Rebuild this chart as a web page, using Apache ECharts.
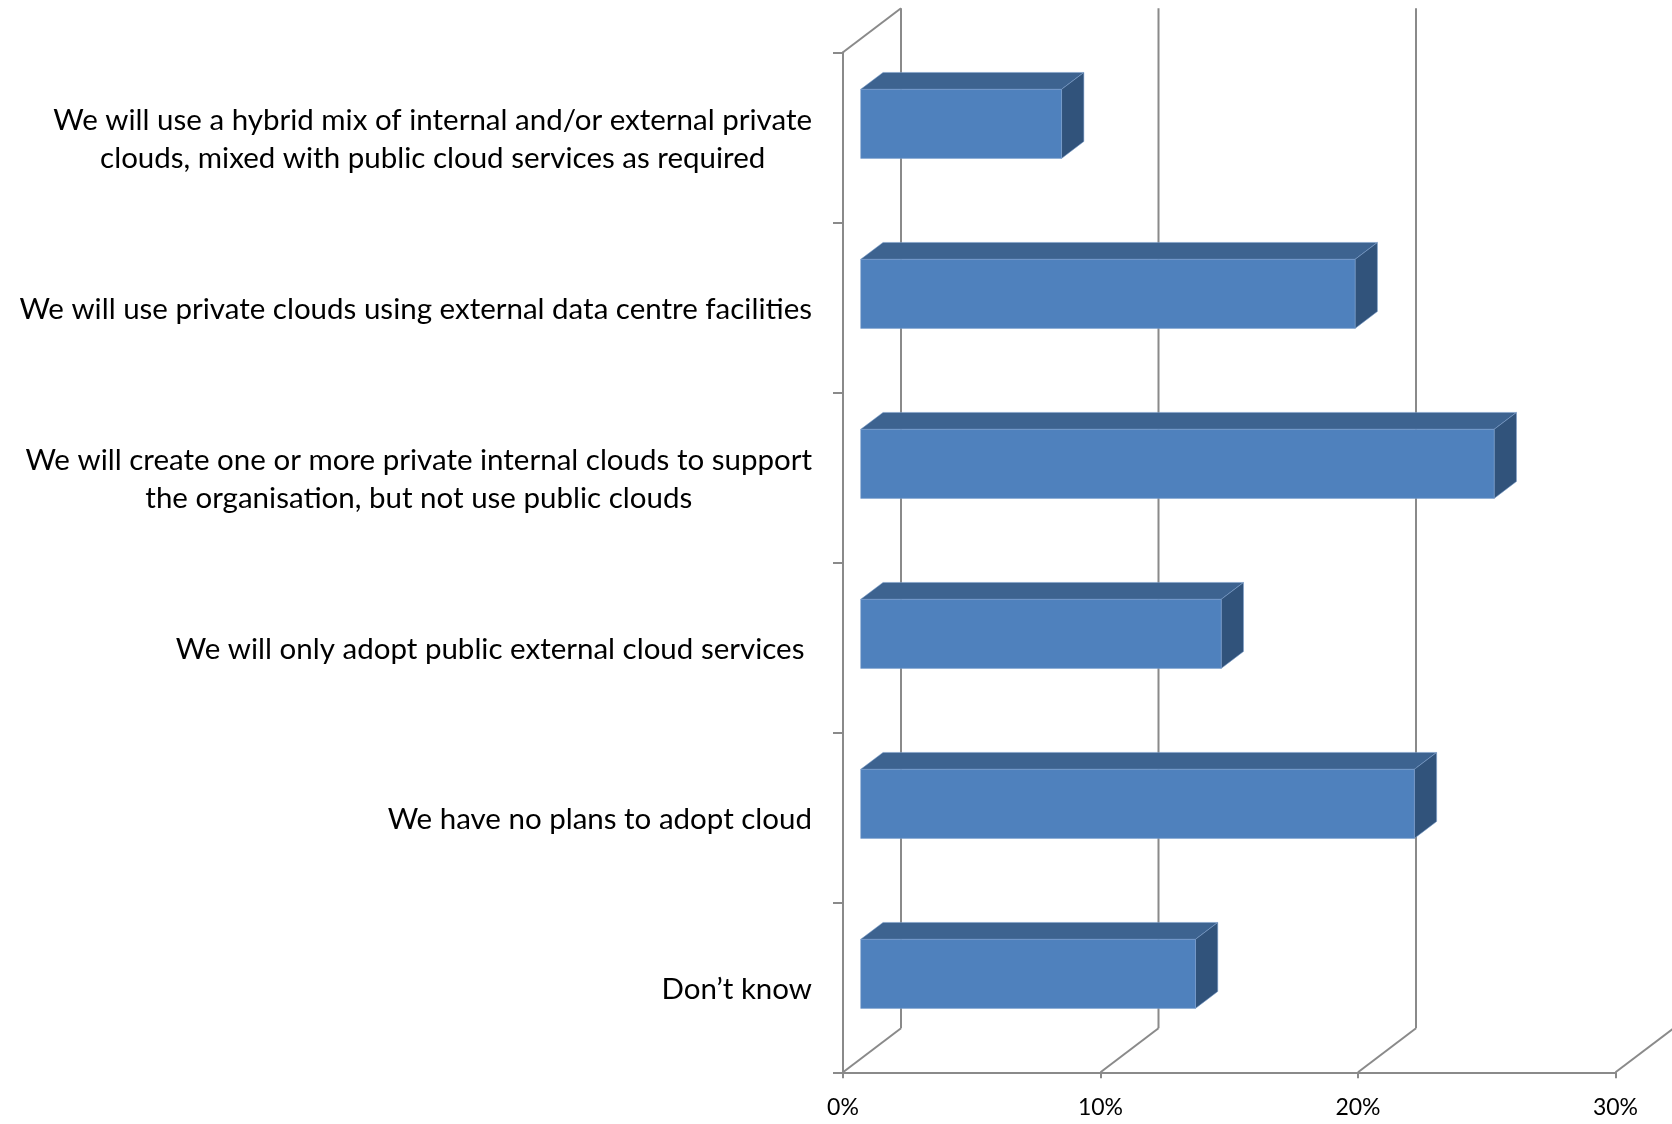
<!DOCTYPE html>
<html>
<head>
<meta charset="utf-8">
<style>
  html, body { margin: 0; padding: 0; background: #ffffff; }
  #chart { width: 1672px; height: 1124px; }
</style>
<script src="https://cdn.jsdelivr.net/npm/echarts@6/dist/echarts.min.js"></script>
</head>
<body>
<div id="chart"></div>
<script>
// Survey answers, top to bottom
const categories = [
  'We will use a hybrid mix of internal and/or external private\nclouds, mixed with public cloud services as required',
  'We will use private clouds using external data centre facilities',
  'We will create one or more private internal clouds to support\nthe organisation, but not use public clouds',
  'We will only adopt public external cloud services ',
  'We have no plans to adopt cloud',
  'Don\u2019t know'
];
// Share of respondents, percent
const shares = [7.8, 19.2, 24.6, 14.0, 21.5, 13.0];
// Value axis ticks, percent
const valueTicks = [0, 10, 20, 30];

// Oblique projection of the chart depth (floor runs back and up)
const DEPTH_DX = 58;
const DEPTH_DY = -44;
// Bars sit in the middle slice of the depth
const BAR_FRONT = 0.305;
const BAR_BACK = 0.69;
const BAR_BAND_RATIO = 0.406;

const WALL_COLOR = '#8a8a8a';
const FACE_FRONT = '#4F81BD';
const FACE_TOP = '#3D6390';
const FACE_SIDE = '#31537B';
const LABEL_FONT = 'Lato';

const chart = echarts.init(document.getElementById('chart'), null, { renderer: 'canvas' });

function wallItem(params, api) {
  const v = api.value(0);
  const cs = params.coordSys;
  const base = api.coord([v, categories.length - 1]);
  const x = base[0];
  const yTop = cs.y;
  const yBot = cs.y + cs.height;
  const lineStyle = { stroke: WALL_COLOR, lineWidth: 2, fill: null };
  const children = [
    // gridline on the back wall
    { type: 'line', shape: { x1: x + DEPTH_DX, y1: yTop + DEPTH_DY, x2: x + DEPTH_DX, y2: yBot + DEPTH_DY }, style: lineStyle },
    // floor line running back from the tick
    { type: 'line', shape: { x1: x, y1: yBot, x2: x + DEPTH_DX, y2: yBot + DEPTH_DY }, style: lineStyle }
  ];
  if (v === 0) {
    // top edge of the side wall
    children.push({ type: 'line', shape: { x1: x, y1: yTop, x2: x + DEPTH_DX, y2: yTop + DEPTH_DY }, style: lineStyle });
  }
  return { type: 'group', children: children };
}

function barItem(params, api) {
  const idx = api.value(1);
  const val = api.value(0);
  const start = api.coord([0, idx]);
  const end = api.coord([val, idx]);
  const band = api.size([0, 1])[1];
  const h = band * BAR_BAND_RATIO;
  const fx = DEPTH_DX * BAR_FRONT, fy = DEPTH_DY * BAR_FRONT;
  const dx = DEPTH_DX * (BAR_BACK - BAR_FRONT), dy = DEPTH_DY * (BAR_BACK - BAR_FRONT);
  const x0 = start[0] + fx, x1 = end[0] + fx;
  const yT = start[1] - h / 2 + fy, yB = yT + h;
  const edge = 'rgba(125,160,205,0.55)';
  return {
    type: 'group',
    children: [
      { type: 'polygon', shape: { points: [[x0, yT], [x0 + dx, yT + dy], [x1 + dx, yT + dy], [x1, yT]] },
        style: { fill: FACE_TOP, stroke: edge, lineWidth: 1 } },
      { type: 'polygon', shape: { points: [[x1, yT], [x1 + dx, yT + dy], [x1 + dx, yB + dy], [x1, yB]] },
        style: { fill: FACE_SIDE, stroke: edge, lineWidth: 1 } },
      { type: 'rect', shape: { x: x0, y: yT, width: x1 - x0, height: h },
        style: { fill: FACE_FRONT, stroke: edge, lineWidth: 1 } }
    ]
  };
}

const option = {
  backgroundColor: '#ffffff',
  animation: false,
  grid: { left: 843, right: 56.5, top: 52.3, bottom: 51.7, containLabel: false },
  xAxis: {
    type: 'value',
    min: 0,
    max: 30,
    interval: 10,
    axisLine: { show: true, lineStyle: { color: WALL_COLOR, width: 2 } },
    axisTick: { show: true, length: 6, lineStyle: { color: WALL_COLOR, width: 2 } },
    splitLine: { show: false },
    axisLabel: {
      margin: 24,
      color: '#000000',
      fontFamily: LABEL_FONT,
      fontSize: 23,
      formatter: '{value}%'
    }
  },
  yAxis: {
    type: 'category',
    inverse: true,
    data: categories,
    axisLine: { show: true, lineStyle: { color: WALL_COLOR, width: 2 } },
    axisTick: { show: true, length: 10, lineStyle: { color: WALL_COLOR, width: 2 } },
    splitLine: { show: false },
    axisLabel: {
      margin: 31,
      align: 'right',
      color: '#000000',
      fontFamily: LABEL_FONT,
      fontSize: 29.5,
      lineHeight: 38,
      padding: [4, 0, 0, 0],
      formatter: function (txt) {
        return txt.split('\n').map(function (l) { return '{c|' + l + '}'; }).join('\n');
      },
      rich: {
        c: { align: 'center', fontFamily: LABEL_FONT, fontSize: 29.5, lineHeight: 38, color: '#000000' }
      }
    }
  },
  series: [
    {
      type: 'custom',
      name: 'walls',
      z: 1,
      silent: true,
      renderItem: wallItem,
      encode: { x: 0 },
      data: valueTicks.map(function (v) { return [v]; })
    },
    {
      type: 'custom',
      name: 'shares',
      z: 3,
      renderItem: barItem,
      encode: { x: 0, y: 1 },
      data: shares.map(function (v, i) { return [v, i]; })
    }
  ]
};

chart.setOption(option);
</script>
</body>
</html>
